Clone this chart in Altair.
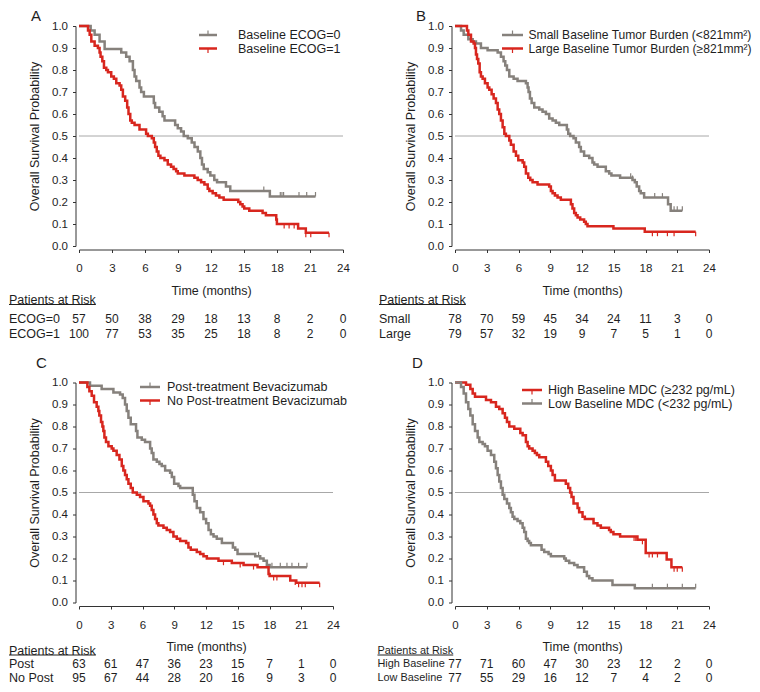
import altair as alt
import pandas as pd

FONT = "Liberation Sans"
GREY = "#86817c"
RED = "#d8261e"
REF = "#a8a8a8"
INK = "#1e1e1e"

TIME_TICKS = [0, 3, 6, 9, 12, 15, 18, 21, 24]
PROB_TICKS = [0.0, 0.1, 0.2, 0.3, 0.4, 0.5, 0.6, 0.7, 0.8, 0.9, 1.0]

# ---------------- Panel A : Baseline ECOG ----------------
A0_T = [1.06, 1.42, 1.87, 2.33, 3.84, 4.29, 4.6, 4.9, 5.05, 5.2, 5.5, 5.65, 5.9, 6.8, 6.92,
        7.3, 7.6, 7.77, 8.74, 8.98, 9.28, 9.52, 9.89, 10.25, 10.5, 10.8, 11.03, 11.18, 11.34,
        11.7, 11.94, 12.3, 12.55, 13.36, 13.75, 17.35]
A0_S = [0.98, 0.96, 0.93, 0.895, 0.88, 0.86, 0.84, 0.80, 0.77, 0.75, 0.72, 0.70, 0.68, 0.65, 0.63,
        0.61, 0.59, 0.57, 0.55, 0.535, 0.52, 0.50, 0.49, 0.47, 0.45, 0.43, 0.40, 0.37, 0.35,
        0.335, 0.32, 0.30, 0.29, 0.27, 0.25, 0.225]
A0_END = 21.5
A0_CENS = [16.8, 18.3, 18.45, 18.6, 20.0, 20.7, 21.5]

A1_T = [0.82, 0.97, 1.12, 1.42, 1.72, 1.87, 1.96, 2.12, 2.27, 2.48, 2.63, 2.93, 3.17, 3.39, 3.69,
        3.84, 3.99, 4.2, 4.38, 4.5, 4.66, 4.8, 5.05, 5.5, 6.1, 6.26, 6.62, 6.8, 6.92, 7.07, 7.22,
        7.4, 7.77, 8.07, 8.37, 8.6, 8.83, 8.98, 9.58, 10.49, 10.79, 11.1, 11.4, 11.7, 11.85,
        12.15, 12.45, 12.76, 13.15, 14.48, 14.66, 14.87, 15.02, 15.48, 16.69, 16.99, 17.93,
        17.99, 19.92, 20.62]
A1_S = [0.98, 0.96, 0.93, 0.91, 0.90, 0.88, 0.86, 0.84, 0.81, 0.80, 0.79, 0.77, 0.76, 0.74, 0.73,
        0.71, 0.68, 0.66, 0.63, 0.60, 0.57, 0.56, 0.55, 0.53, 0.51, 0.50, 0.49, 0.47, 0.45, 0.43, 0.41,
        0.40, 0.39, 0.37, 0.36, 0.35, 0.34, 0.33, 0.32, 0.31, 0.30, 0.29, 0.28, 0.26, 0.25,
        0.24, 0.23, 0.22, 0.21, 0.20, 0.19, 0.18, 0.17, 0.16, 0.15, 0.14, 0.12,
        0.10, 0.08, 0.06]
A1_END = 22.73
A1_CENS = [18.65, 19.1, 19.56, 20.62, 21.07, 22.73]

A_LEGEND = ["Baseline ECOG=0", "Baseline ECOG=1"]
A_RISK_LABELS = ["ECOG=0", "ECOG=1"]
A_RISK_0 = [57, 50, 38, 29, 18, 13, 8, 2, 0]
A_RISK_1 = [100, 77, 53, 35, 25, 18, 8, 2, 0]

# ---------------- Panel B : Baseline tumor burden ----------------
B0_T = [0.57, 0.82, 1.26, 1.67, 1.98, 2.45, 3.08, 4.03, 4.34, 4.59, 4.75, 4.91, 5.13, 5.54, 5.91,
        6.7, 6.86, 6.95, 7.08, 7.24, 7.49, 7.96, 8.27, 8.59, 8.9, 9.22, 9.53, 9.85, 10.57, 10.7,
        10.88, 11.2, 11.42, 11.73, 11.89, 12.2, 12.68, 12.99, 13.15, 13.47, 14.25, 14.57, 14.78,
        15.6, 16.77, 16.99, 17.17, 17.4, 17.55, 17.87, 20.13, 20.38]
B0_S = [0.98, 0.96, 0.94, 0.93, 0.92, 0.90, 0.89, 0.88, 0.86, 0.84, 0.82, 0.80, 0.77, 0.76, 0.75,
        0.74, 0.72, 0.70, 0.67, 0.65, 0.63, 0.62, 0.61, 0.60, 0.58, 0.57, 0.56, 0.55, 0.53, 0.51,
        0.50, 0.49, 0.47, 0.45, 0.43, 0.41, 0.40, 0.38, 0.37, 0.36, 0.34, 0.33, 0.32,
        0.31, 0.30, 0.29, 0.27, 0.25, 0.24, 0.22, 0.19, 0.16]
B0_END = 21.48
B0_CENS = [16.6, 16.77, 18.87, 19.6, 20.7, 21.0, 21.48]

B1_T = [1.13, 1.26, 1.51, 1.76, 1.89, 1.98, 2.08, 2.2, 2.33, 2.45, 2.61, 2.83, 3.08, 3.24, 3.46,
        3.65, 3.87, 4.03, 4.18, 4.34, 4.5, 4.66, 4.81, 5.13, 5.28, 5.54, 5.76, 5.98, 6.39, 6.54,
        6.7, 6.92, 7.11, 7.33, 7.8, 8.9, 9.06, 9.22, 9.44, 9.69, 10.0, 10.95, 11.1, 11.26, 11.42,
        11.58, 11.83, 12.2, 12.36, 12.52, 14.97, 17.93]
B1_S = [0.98, 0.96, 0.93, 0.92, 0.90, 0.87, 0.85, 0.83, 0.79, 0.77, 0.76, 0.74, 0.72, 0.71, 0.69,
        0.67, 0.65, 0.62, 0.60, 0.57, 0.54, 0.51, 0.50, 0.48, 0.46, 0.43, 0.41, 0.39, 0.38, 0.36,
        0.33, 0.31, 0.30, 0.29, 0.28, 0.27, 0.25, 0.24, 0.23, 0.22, 0.21, 0.19, 0.17, 0.15, 0.14,
        0.13, 0.12, 0.11, 0.10, 0.09, 0.08, 0.065]
B1_END = 22.74
B1_CENS = [18.65, 19.13, 20.07, 20.7, 22.74]

B_LEGEND = ["Small Baseline Tumor Burden (<821mm\u00b2)", "Large Baseline Tumor Burden (\u2265821mm\u00b2)"]
B_RISK_LABELS = ["Small", "Large"]
B_RISK_0 = [78, 70, 59, 45, 34, 24, 11, 3, 0]
B_RISK_1 = [79, 57, 32, 19, 9, 7, 5, 1, 0]

# ---------------- Panel C : Post-treatment bevacizumab ----------------
C0_T = [1.04, 2.14, 3.25, 3.88, 4.13, 4.35, 4.51, 4.67, 4.89, 5.39, 5.52, 5.93, 6.24, 6.72, 6.87,
        7.03, 7.35, 7.6, 7.82, 8.14, 8.61, 8.77, 8.99, 9.4, 9.56, 10.75, 10.91, 11.13, 11.45,
        11.76, 12.01, 12.24, 12.46, 12.71, 13.02, 13.5, 14.54, 14.76, 14.98, 16.65, 17.12,
        17.44, 17.75, 18.01]
C0_S = [0.985, 0.97, 0.955, 0.945, 0.93, 0.90, 0.87, 0.84, 0.81, 0.78, 0.75, 0.74, 0.73, 0.70, 0.68,
        0.65, 0.64, 0.63, 0.62, 0.60, 0.59, 0.57, 0.54, 0.53, 0.52, 0.49, 0.46, 0.43, 0.41,
        0.38, 0.36, 0.33, 0.31, 0.30, 0.29, 0.27, 0.25, 0.24, 0.22, 0.21, 0.20,
        0.19, 0.17, 0.16]
C0_END = 21.54
C0_CENS = [16.97, 18.23, 19.02, 19.65, 20.12, 20.75, 21.54]

C1_T = [0.79, 0.98, 1.2, 1.42, 1.67, 1.83, 1.92, 2.08, 2.21, 2.3, 2.4, 2.55, 2.78, 3.09, 3.25,
        3.56, 3.82, 4.04, 4.19, 4.35, 4.51, 4.67, 4.89, 5.08, 5.46, 5.77, 6.09, 6.56, 6.72, 6.87,
        7.03, 7.19, 7.35, 7.5, 7.98, 8.29, 8.61, 8.92, 9.24, 9.56, 10.12, 10.34, 10.56, 11.13,
        11.45, 11.76, 12.08, 13.18, 14.44, 15.55, 16.87, 17.91, 18.01, 19.96, 20.53]
C1_S = [0.98, 0.96, 0.94, 0.91, 0.89, 0.87, 0.85, 0.82, 0.80, 0.78, 0.75, 0.73, 0.71, 0.70, 0.69,
        0.67, 0.65, 0.62, 0.60, 0.58, 0.56, 0.54, 0.52, 0.50, 0.49, 0.48, 0.46, 0.45, 0.44, 0.42,
        0.40, 0.38, 0.36, 0.35, 0.34, 0.33, 0.32, 0.30, 0.29, 0.28, 0.27, 0.25, 0.24, 0.23,
        0.22, 0.21, 0.20, 0.19, 0.18, 0.17, 0.16, 0.13, 0.12, 0.10, 0.09]
C1_END = 22.74
C1_CENS = [13.65, 15.23, 16.49, 18.39, 18.7, 20.43, 20.75, 21.07, 21.38, 22.74]

C_LEGEND = ["Post-treatment Bevacizumab", "No Post-treatment Bevacizumab"]
C_RISK_LABELS = ["Post", "No Post"]
C_RISK_0 = [63, 61, 47, 36, 23, 15, 7, 1, 0]
C_RISK_1 = [95, 67, 44, 28, 20, 16, 9, 3, 0]

# ---------------- Panel D : Baseline MDC ----------------
D0_T = [1.04, 1.45, 1.67, 1.89, 2.93, 3.4, 3.87, 4.18, 4.5, 4.72, 4.91, 5.13, 5.6, 6.17, 6.39,
        6.7, 6.86, 7.01, 7.33, 7.55, 7.74, 7.96, 8.59, 8.81, 9.06, 9.22, 9.44, 10.47, 10.7, 10.88,
        11.01, 11.2, 11.58, 11.73, 12.05, 12.27, 13.09, 13.46, 13.78, 14.56, 14.72, 14.97, 15.6,
        17.24, 18.02, 20.0, 20.45]
D0_S = [0.99, 0.97, 0.95, 0.935, 0.92, 0.91, 0.89, 0.88, 0.86, 0.84, 0.82, 0.80, 0.79, 0.77, 0.76,
        0.73, 0.71, 0.70, 0.69, 0.68, 0.67, 0.66, 0.64, 0.62, 0.60, 0.58, 0.555, 0.54, 0.52, 0.50,
        0.48, 0.45, 0.43, 0.41, 0.39, 0.38, 0.36, 0.35, 0.34, 0.33, 0.32, 0.31, 0.30,
        0.285, 0.225, 0.195, 0.16]
D0_END = 21.48
D0_CENS = [16.92, 17.08, 17.71, 18.34, 18.65, 19.13, 20.7, 21.0, 21.48]

D1_T = [0.57, 0.82, 1.04, 1.26, 1.45, 1.67, 1.89, 2.14, 2.3, 2.61, 2.83, 3.08, 3.4, 3.71, 3.87,
        4.03, 4.18, 4.34, 4.5, 4.66, 4.91, 5.13, 5.28, 5.44, 5.6, 5.91, 6.17, 6.39, 6.54, 6.7,
        6.86, 7.01, 7.17, 8.18, 8.43, 8.84, 9.06, 10.32, 10.47, 10.79, 11.26, 11.58, 12.2, 12.46,
        12.68, 12.99, 14.88, 16.99]
D1_S = [0.98, 0.95, 0.91, 0.88, 0.85, 0.81, 0.78, 0.75, 0.73, 0.72, 0.71, 0.69, 0.67, 0.64, 0.61,
        0.58, 0.55, 0.52, 0.49, 0.47, 0.45, 0.43, 0.41, 0.39, 0.38, 0.37, 0.36, 0.34, 0.32, 0.29,
        0.28, 0.27, 0.26, 0.24, 0.23, 0.22, 0.21, 0.20, 0.19, 0.18, 0.17, 0.16, 0.14, 0.12,
        0.11, 0.10, 0.08, 0.065]
D1_END = 22.74
D1_CENS = [18.65, 20.07, 21.48, 22.74]

D_LEGEND = ["High Baseline MDC (\u2265232 pg/mL)", "Low Baseline MDC (<232 pg/mL)"]
D_RISK_LABELS = ["High Baseline", "Low Baseline"]
D_RISK_0 = [77, 71, 60, 47, 30, 23, 12, 2, 0]
D_RISK_1 = [77, 55, 29, 16, 12, 7, 4, 2, 0]


# ---------------- helpers ----------------
H = 220


def step_frame(ts, ss, end):
    return pd.DataFrame({"t": [0.0] + list(ts) + [end],
                         "s": [1.0] + list(ss) + [ss[-1]]})


def surv_at(ts, ss, x):
    v = 1.0
    for t, s in zip(ts, ss):
        if t <= x:
            v = s
    return v


ONE = pd.DataFrame({"k": [0]})


def make_panel(p):
    xs = alt.Scale(domain=[0, 24], nice=False, zero=False)
    ys = alt.Scale(domain=[0, 1], nice=False, zero=False)
    xaxis = alt.Axis(values=TIME_TICKS, title="Time (months)", offset=3.5, tickSize=3,
                     labelPadding=10, titlePadding=10, grid=False, labelFlush=False,
                     labelFontSize=11.5, titleFontSize=12.5, titleFontWeight="normal",
                     domainColor="#333333", tickColor="#333333", labelColor=INK, titleColor=INK)
    yaxis = alt.Axis(values=PROB_TICKS, format=".1f", title="Overall Survival Probability",
                     offset=3.5, tickSize=3, labelPadding=5, titlePadding=10, grid=False,
                     labelFlush=False, labelFontSize=11.5, titleFontSize=12.5,
                     titleFontWeight="normal", domainColor="#333333", tickColor="#333333",
                     labelColor=INK, titleColor=INK)

    def X(f):
        return alt.X(f, type="quantitative", scale=xs, axis=xaxis)

    def Y(f):
        return alt.Y(f, type="quantitative", scale=ys, axis=yaxis)

    layers = []
    layers.append(
        alt.Chart(pd.DataFrame({"t": [0.0], "t2": [24.0], "s": [0.5]}))
        .mark_rule(color=REF, strokeWidth=1)
        .encode(x=X("t"), x2="t2", y=Y("s"))
    )
    for c in p["curves"]:
        layers.append(
            alt.Chart(step_frame(c["t"], c["s"], c["end"]))
            .mark_line(interpolate="step-after", color=c["color"], strokeWidth=2.5)
            .encode(x=X("t"), y=Y("s"))
        )
        cdf = pd.DataFrame({"t": c["cens"],
                            "s": [surv_at(c["t"], c["s"], x) for x in c["cens"]]})
        layers.append(
            alt.Chart(cdf)
            .mark_rule(color=c["color"], strokeWidth=1.2, y2Offset=-4.5 if c["up"] else 4.5)
            .encode(x=X("t"), y=Y("s"), y2="s")
        )

    # panel letter
    layers.append(
        alt.Chart(ONE).mark_text(text=p["letter"], fontSize=15, align="left", baseline="top",
                                 color=INK)
        .encode(x=alt.value(p["letter_xy"][0]), y=alt.value(p["letter_xy"][1]))
    )

    # legend
    lx0, lx1, tx = p["legend_x"]
    for (name, c), ry in zip(p["legend"], p["legend_y"]):
        layers.append(
            alt.Chart(ONE).mark_rule(color=c["color"], strokeWidth=2.5)
            .encode(x=alt.value(lx0), x2=alt.value(lx1), y=alt.value(ry))
        )
        layers.append(
            alt.Chart(ONE).mark_rule(color=c["color"], strokeWidth=1.2)
            .encode(x=alt.value((lx0 + lx1) / 2), y=alt.value(ry),
                    y2=alt.value(ry - 4.5 if c["up"] else ry + 4.5))
        )
        layers.append(
            alt.Chart(ONE).mark_text(text=name, fontSize=p["legend_fs"], align="left",
                                     baseline="middle", color=INK)
            .encode(x=alt.value(tx), y=alt.value(ry))
        )

    # patients at risk table
    hx = p["risk_label_x"]
    hy, r1, r2, uy = p["risk_y"]
    fs = p["risk_fs"]
    layers.append(
        alt.Chart(ONE).mark_text(text="Patients at Risk", fontSize=fs, align="left",
                                 baseline="middle", color=INK)
        .encode(x=alt.value(hx), y=alt.value(hy))
    )
    layers.append(
        alt.Chart(ONE).mark_rule(color=INK, strokeWidth=1)
        .encode(x=alt.value(hx), x2=alt.value(hx + 6.95 * fs), y=alt.value(uy))
    )
    for lab, counts, ry in zip(p["risk_labels"], p["risk"], [r1, r2]):
        layers.append(
            alt.Chart(ONE).mark_text(text=lab, fontSize=fs, align="left", baseline="middle",
                                     color=INK)
            .encode(x=alt.value(hx), y=alt.value(ry))
        )
        layers.append(
            alt.Chart(pd.DataFrame({"t": TIME_TICKS, "n": [str(v) for v in counts]}))
            .mark_text(fontSize=12, align="center", baseline="middle", color=INK)
            .encode(x=X("t"), y=alt.value(ry), text="n:N")
        )

    return alt.layer(*layers).properties(width=p["width"], height=H)


cA0 = dict(t=A0_T, s=A0_S, end=A0_END, cens=A0_CENS, color=GREY, up=True)
cA1 = dict(t=A1_T, s=A1_S, end=A1_END, cens=A1_CENS, color=RED, up=False)
cB0 = dict(t=B0_T, s=B0_S, end=B0_END, cens=B0_CENS, color=GREY, up=True)
cB1 = dict(t=B1_T, s=B1_S, end=B1_END, cens=B1_CENS, color=RED, up=False)
cC0 = dict(t=C0_T, s=C0_S, end=C0_END, cens=C0_CENS, color=GREY, up=True)
cC1 = dict(t=C1_T, s=C1_S, end=C1_END, cens=C1_CENS, color=RED, up=False)
cD0 = dict(t=D0_T, s=D0_S, end=D0_END, cens=D0_CENS, color=RED, up=False)
cD1 = dict(t=D1_T, s=D1_S, end=D1_END, cens=D1_CENS, color=GREY, up=True)

TOP_RISK_Y = (274, 292.75, 308, 278.5)
BOT_RISK_Y = (268, 281.5, 295, 272.5)

panelA = make_panel(dict(
    letter="A", letter_xy=(-48, -17.5), width=264,
    curves=[cA0, cA1], legend=list(zip(A_LEGEND, [cA0, cA1])), legend_fs=12.5,
    legend_x=(120, 138, 159), legend_y=(9, 22.5),
    risk_label_x=-70, risk_y=TOP_RISK_Y, risk_fs=12.5,
    risk_labels=A_RISK_LABELS, risk=[A_RISK_0, A_RISK_1]))

panelB = make_panel(dict(
    letter="B", letter_xy=(-39, -17.5), width=254,
    curves=[cB0, cB1], legend=list(zip(B_LEGEND, [cB0, cB1])), legend_fs=12.1,
    legend_x=(47, 68, 73.5), legend_y=(9, 22.5),
    risk_label_x=-76, risk_y=TOP_RISK_Y, risk_fs=12.5,
    risk_labels=B_RISK_LABELS, risk=[B_RISK_0, B_RISK_1]))

panelC = make_panel(dict(
    letter="C", letter_xy=(-43, -27), width=254,
    curves=[cC0, cC1], legend=list(zip(C_LEGEND, [cC0, cC1])), legend_fs=12.5,
    legend_x=(61, 81, 88), legend_y=(4.5, 18),
    risk_label_x=-70, risk_y=BOT_RISK_Y, risk_fs=12.5,
    risk_labels=C_RISK_LABELS, risk=[C_RISK_0, C_RISK_1]))

panelD = make_panel(dict(
    letter="D", letter_xy=(-43, -27), width=254,
    curves=[cD0, cD1], legend=list(zip(D_LEGEND, [cD0, cD1])), legend_fs=12.5,
    legend_x=(67, 87, 93), legend_y=(7.5, 21),
    risk_label_x=-77.5, risk_y=BOT_RISK_Y, risk_fs=10.9,
    risk_labels=D_RISK_LABELS, risk=[D_RISK_0, D_RISK_1]))

col1 = alt.vconcat(panelA, panelC, spacing=136.5, bounds="flush")
col2 = alt.vconcat(panelB, panelD, spacing=136.5, bounds="flush")

chart = (
    alt.hconcat(col1, col2, spacing=376, bounds="flush")
    .properties(padding=0)
    .configure(font=FONT)
    .configure_view(stroke=None)
)

chart.save("out.html", embed_options={"renderer": "svg", "actions": False})
